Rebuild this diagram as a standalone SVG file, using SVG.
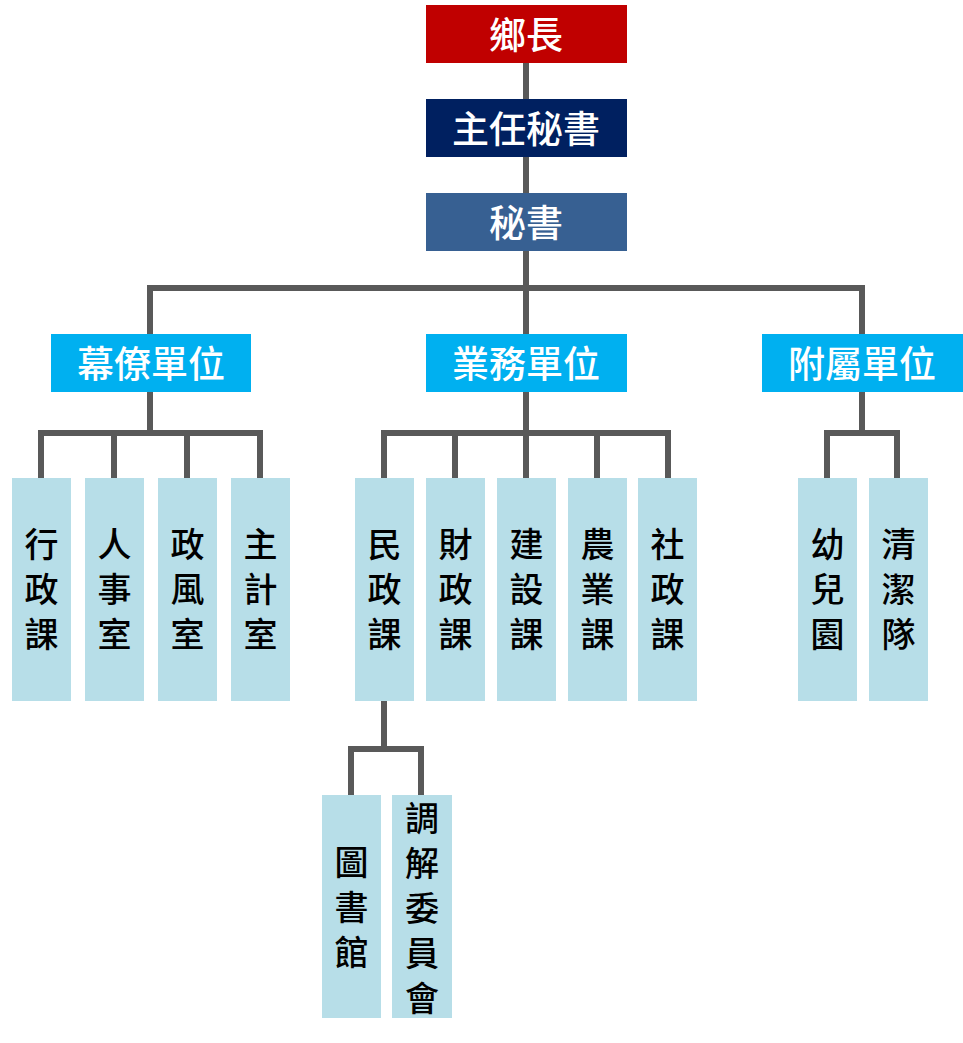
<svg xmlns="http://www.w3.org/2000/svg" width="963" height="1043" viewBox="0 0 963 1043">
<style>
.ln{fill:none;stroke:#595959;stroke-width:6;stroke-linejoin:miter}
.t{font-family:"Noto Sans CJK TC","Noto Sans CJK SC",sans-serif;font-size:34px;text-anchor:middle;dominant-baseline:central}
.w{fill:#fff;font-weight:500;font-size:37px}
.k{fill:#000;font-weight:500}
.leaf{fill:#B7DEE8}
.unit{fill:#00B0F0}
</style>
<rect width="963" height="1043" fill="#fff"/>
<g id="connectors">
<path class="ln" d="M526 63V99M526 157V193M526 251V334"/>
<path class="ln" d="M150 334V288H862V334"/>
<path class="ln" d="M150 392V433M41 478V433H260V478M114 433V478M187 433V478"/>
<path class="ln" d="M526 392V433M384 478V433H668V478M455 433V478M526 433V478M597 433V478"/>
<path class="ln" d="M862 392V433M827 478V433H897V478"/>
<path class="ln" d="M384 701V749M351 795V749H421V795"/>
</g>
<g id="n-xiangzhang"><rect x="426" y="5" width="201" height="58" fill="#C00000"/><text class="t w" x="526" y="33">鄉長</text></g>
<g id="n-zhuren"><rect x="426" y="99" width="201" height="58" fill="#002060"/><text class="t w" x="526" y="127">主任秘書</text></g>
<g id="n-mishu"><rect x="426" y="193" width="201" height="58" fill="#376092"/><text class="t w" x="526" y="221">秘書</text></g>
<g id="n-muliao"><rect class="unit" x="51" y="334" width="200" height="58"/><text class="t w" x="151" y="362">幕僚單位</text></g>
<g id="n-yewu"><rect class="unit" x="426" y="334" width="201" height="58"/><text class="t w" x="526" y="362">業務單位</text></g>
<g id="n-fushu"><rect class="unit" x="762" y="334" width="201" height="58"/><text class="t w" x="862" y="362">附屬單位</text></g>
<g id="n-xingzheng"><rect class="leaf" x="12" y="478" width="59" height="223"/><text class="t k"><tspan x="41.5" y="542">行</tspan><tspan x="41.5" y="587">政</tspan><tspan x="41.5" y="632">課</tspan></text></g>
<g id="n-renshi"><rect class="leaf" x="85" y="478" width="59" height="223"/><text class="t k"><tspan x="114.5" y="542">人</tspan><tspan x="114.5" y="587">事</tspan><tspan x="114.5" y="632">室</tspan></text></g>
<g id="n-zhengfeng"><rect class="leaf" x="158" y="478" width="59" height="223"/><text class="t k"><tspan x="187.5" y="542">政</tspan><tspan x="187.5" y="587">風</tspan><tspan x="187.5" y="632">室</tspan></text></g>
<g id="n-zhuji"><rect class="leaf" x="231" y="478" width="59" height="223"/><text class="t k"><tspan x="260.5" y="542">主</tspan><tspan x="260.5" y="587">計</tspan><tspan x="260.5" y="632">室</tspan></text></g>
<g id="n-minzheng"><rect class="leaf" x="355" y="478" width="59" height="223"/><text class="t k"><tspan x="384.5" y="542">民</tspan><tspan x="384.5" y="587">政</tspan><tspan x="384.5" y="632">課</tspan></text></g>
<g id="n-caizheng"><rect class="leaf" x="426" y="478" width="59" height="223"/><text class="t k"><tspan x="455.5" y="542">財</tspan><tspan x="455.5" y="587">政</tspan><tspan x="455.5" y="632">課</tspan></text></g>
<g id="n-jianshe"><rect class="leaf" x="497" y="478" width="59" height="223"/><text class="t k"><tspan x="526.5" y="542">建</tspan><tspan x="526.5" y="587">設</tspan><tspan x="526.5" y="632">課</tspan></text></g>
<g id="n-nongye"><rect class="leaf" x="568" y="478" width="59" height="223"/><text class="t k"><tspan x="597.5" y="542">農</tspan><tspan x="597.5" y="587">業</tspan><tspan x="597.5" y="632">課</tspan></text></g>
<g id="n-shezheng"><rect class="leaf" x="638" y="478" width="59" height="223"/><text class="t k"><tspan x="667.5" y="542">社</tspan><tspan x="667.5" y="587">政</tspan><tspan x="667.5" y="632">課</tspan></text></g>
<g id="n-youer"><rect class="leaf" x="798" y="478" width="59" height="223"/><text class="t k"><tspan x="827.5" y="542">幼</tspan><tspan x="827.5" y="587">兒</tspan><tspan x="827.5" y="632">園</tspan></text></g>
<g id="n-qingjie"><rect class="leaf" x="869" y="478" width="59" height="223"/><text class="t k"><tspan x="898.5" y="542">清</tspan><tspan x="898.5" y="587">潔</tspan><tspan x="898.5" y="632">隊</tspan></text></g>
<g id="n-tushuguan"><rect class="leaf" x="322" y="795" width="59" height="223"/><text class="t k"><tspan x="351.5" y="860">圖</tspan><tspan x="351.5" y="905">書</tspan><tspan x="351.5" y="950">館</tspan></text></g>
<g id="n-tiaojie"><rect class="leaf" x="392" y="795" width="60" height="223"/><text class="t k"><tspan x="422" y="816">調</tspan><tspan x="422" y="861">解</tspan><tspan x="422" y="906">委</tspan><tspan x="422" y="951">員</tspan><tspan x="422" y="996">會</tspan></text></g>
</svg>
